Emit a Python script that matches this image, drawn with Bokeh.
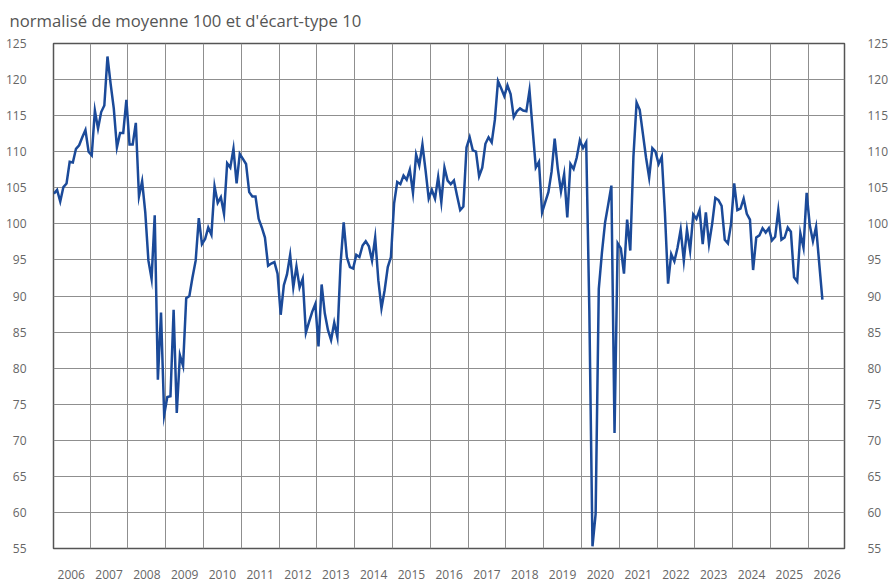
from bokeh.plotting import figure
from bokeh.models import FixedTicker, LinearAxis, Range1d, ColumnDataSource
from bokeh.embed import file_html
from bokeh.resources import INLINE

# ---- data (monthly index, Jan 2006 onward) ----
start_year = 2006
values = [
    104.2, 104.7, 103.1, 105.1, 105.6, 108.6, 108.5, 110.4, 110.9, 112.0, 113.0, 110.0,  # 2006
    109.5, 115.7, 113.2, 115.5, 116.4, 123.2, 119.4, 116.0, 110.6, 112.6, 112.6, 117.2,  # 2007
    111.0, 111.0, 114.0, 103.8, 105.9, 101.6, 94.9, 92.4, 101.2, 78.4, 87.7, 73.5,       # 2008
    76.0, 76.1, 88.1, 73.8, 81.8, 80.3, 89.7, 90.0, 92.6, 94.9, 100.8, 97.2,             # 2009
    97.9, 99.5, 98.5, 105.2, 102.9, 103.7, 101.4, 108.4, 107.8, 110.4, 105.6, 109.7,     # 2010
    109.0, 108.3, 104.4, 103.8, 103.8, 100.7, 99.5, 98.1, 94.2, 94.5, 94.7, 93.1,        # 2011
    87.4, 91.5, 93.0, 95.7, 91.2, 94.1, 91.2, 92.4, 84.9, 86.4, 87.8, 88.9,              # 2012
    83.0, 91.6, 87.6, 85.3, 83.9, 86.3, 84.3, 94.4, 100.2, 95.4, 94.0, 93.8,             # 2013
    95.7, 95.4, 97.0, 97.6, 96.9, 94.9, 98.1, 92.2, 88.3, 90.8, 94.0, 95.4,              # 2014
    102.8, 105.8, 105.5, 106.7, 106.1, 107.5, 104.3, 109.6, 108.1, 111.0, 107.4, 103.5,  # 2015
    104.7, 103.5, 106.5, 103.0, 107.8, 106.0, 105.5, 106.0, 103.9, 101.9, 102.4, 110.6,  # 2016
    112.0, 110.2, 110.0, 106.6, 107.8, 111.1, 112.0, 111.3, 114.4, 119.8, 118.8, 117.7,  # 2017
    119.2, 118.0, 114.8, 115.6, 116.0, 115.7, 115.6, 118.5, 113.1, 107.8, 108.6, 101.6,  # 2018
    103.0, 104.4, 107.2, 111.8, 107.6, 104.5, 106.9, 100.9, 108.3, 107.6, 109.2, 111.6,  # 2019
    110.5, 111.3, 88.0, 55.3, 59.8, 91.0, 96.0, 100.2, 102.7, 105.3, 71.0, 97.3,         # 2020
    96.6, 93.1, 100.6, 96.3, 109.3, 116.8, 115.8, 112.5, 109.2, 106.4, 110.5, 110.0,     # 2021
    108.3, 109.3, 101.5, 91.7, 95.8, 94.8, 96.7, 99.2, 94.9, 99.2, 96.3, 101.3,          # 2022
    100.7, 101.9, 97.2, 101.6, 97.2, 100.0, 103.6, 103.3, 102.5, 97.8, 97.3, 100.0,      # 2023
    105.6, 101.9, 102.1, 103.5, 101.4, 100.6, 93.6, 98.1, 98.4, 99.4, 98.8, 99.4,        # 2024
    97.7, 98.2, 101.9, 97.8, 98.1, 99.5, 98.9, 92.6, 92.0, 98.7, 96.7, 104.3,            # 2025
    99.8, 97.6, 99.6, 94.5, 89.5,                                                        # 2026
]
year_labels = [str(y) for y in range(2006, 2027)]
y_ticks = list(range(55, 126, 5))
title_text = "normalisé de moyenne 100 et d'écart-type 10"

dates = [start_year + (i + 0.5) / 12 for i in range(len(values))]
src = ColumnDataSource(dict(x=dates, y=values))

FONT = "Open Sans"
LABEL_COLOR = "#666666"
GRID_COLOR = "#8f8f8f"

p = figure(
    width=891, height=581,
    output_backend="svg", toolbar_location=None,
    x_range=Range1d(2006.03, 2026.96), y_range=Range1d(55, 125),
    min_border_left=53, min_border_right=41, min_border_top=43, min_border_bottom=33,
    title=title_text,
)
p.background_fill_color = "white"
p.border_fill_color = "white"
p.outline_line_color = "#555555"
p.outline_line_width = 1.5

p.title.text_font = FONT
p.title.text_font_size = "16.7px"
p.title.text_font_style = "normal"
p.title.text_color = "#555555"
p.title.align = "left"
p.title.vertical_align = "top"
p.title.text_baseline = "top"
p.title.offset = -44
p.title.standoff = 17.8

# x axis: labels centred in each year, grid at year boundaries
label_ticks = [int(y) + 0.5 for y in year_labels]
xa = p.xaxis[0]
xa.ticker = FixedTicker(ticks=label_ticks)
xa.major_label_overrides = {t: lab for t, lab in zip(label_ticks, year_labels)}
xa.axis_line_color = None
xa.major_tick_line_color = None
xa.minor_tick_line_color = None
xa.major_label_text_font = FONT
xa.major_label_text_font_size = "12px"
xa.major_label_text_color = LABEL_COLOR
xa.major_label_standoff = 15

p.xgrid.ticker = FixedTicker(ticks=[int(y) for y in year_labels[1:]])
p.xgrid.grid_line_color = GRID_COLOR
p.xgrid.grid_line_width = 1

ya = p.yaxis[0]
ya.ticker = FixedTicker(ticks=y_ticks)
ya.axis_line_color = None
ya.major_tick_line_color = None
ya.minor_tick_line_color = None
ya.major_label_text_font = FONT
ya.major_label_text_font_size = "12px"
ya.major_label_text_color = LABEL_COLOR
ya.major_label_standoff = 21

p.ygrid.grid_line_color = GRID_COLOR
p.ygrid.grid_line_width = 1

ra = LinearAxis(ticker=FixedTicker(ticks=y_ticks))
ra.axis_line_color = None
ra.major_tick_line_color = None
ra.minor_tick_line_color = None
ra.major_label_text_font = FONT
ra.major_label_text_font_size = "12px"
ra.major_label_text_color = LABEL_COLOR
ra.major_label_standoff = 17
p.add_layout(ra, "right")

p.line("x", "y", source=src, line_color="#1b4a99", line_width=2.5, line_join="miter")

open("out.html", "w").write(file_html(p, INLINE))
